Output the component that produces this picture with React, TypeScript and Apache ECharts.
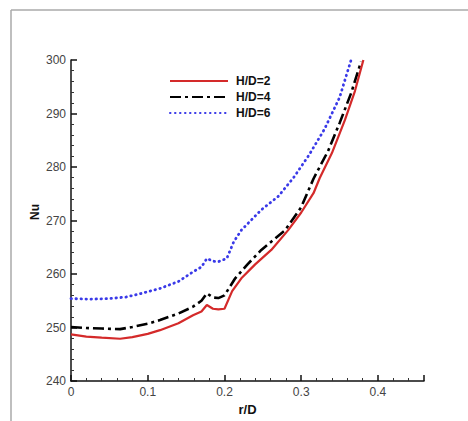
import React, { useEffect, useRef } from "react";
import * as echarts from "echarts";

const seriesNames = ["H/D=2", "H/D=4", "H/D=6"];

const rD2 = [0, 0.02, 0.04, 0.064, 0.08, 0.1, 0.116, 0.14, 0.159, 0.17, 0.177, 0.185, 0.192, 0.2, 0.21, 0.222, 0.24, 0.261, 0.283, 0.3, 0.316, 0.324, 0.34, 0.357, 0.37, 0.381];
const nu2 = [248.7, 248.3, 248.1, 247.9, 248.2, 248.8, 249.5, 250.8, 252.3, 253.0, 254.2, 253.5, 253.4, 253.5, 256.8, 259.2, 261.8, 264.5, 268.2, 271.5, 275.1, 277.9, 282.6, 288.8, 294.2, 300];

const rD4 = [0, 0.02, 0.04, 0.064, 0.08, 0.1, 0.116, 0.14, 0.159, 0.17, 0.177, 0.185, 0.192, 0.2, 0.214, 0.23, 0.248, 0.279, 0.3, 0.316, 0.335, 0.35, 0.365, 0.378];
const nu4 = [250.1, 249.9, 249.8, 249.7, 250.1, 250.7, 251.4, 252.6, 253.9, 255.0, 256.4, 255.6, 255.5, 256.0, 259.2, 261.8, 264.5, 268.2, 272.5, 277.8, 283.0, 288.2, 293.8, 299.7];

const rD6 = [0, 0.025, 0.05, 0.072, 0.09, 0.116, 0.14, 0.159, 0.17, 0.177, 0.185, 0.192, 0.203, 0.212, 0.222, 0.248, 0.27, 0.29, 0.31, 0.33, 0.35, 0.365];
const nu6 = [255.4, 255.3, 255.4, 255.7, 256.3, 257.3, 258.6, 260.4, 261.3, 262.9, 262.4, 262.3, 262.9, 266.0, 268.2, 272.0, 274.5, 278.0, 282.2, 287.0, 293.0, 300.0];

const xTicks = [0, 0.1, 0.2, 0.3, 0.4];
const yTicks = [240, 250, 260, 270, 280, 290, 300];

const pairs = (xs: number[], ys: number[]) => xs.map((x, i) => [x, ys[i]]);

export default function App() {
  const ref = useRef<HTMLDivElement>(null);
  useEffect(() => {
    if (!ref.current) return;
    const chart = echarts.init(ref.current, null, { renderer: "svg" });
    const font = "'Liberation Sans', Arial, sans-serif";
    chart.setOption({
      animation: false,
      backgroundColor: "#ffffff",
      grid: { left: 71, right: 44, top: 60, bottom: 40 },
      legend: {
        orient: "vertical",
        left: 164,
        top: 70,
        itemWidth: 58,
        itemHeight: 11,
        itemGap: 4,
        data: seriesNames,
        itemStyle: { opacity: 0 },
        textStyle: { fontFamily: font, fontWeight: "bold", fontSize: 12, color: "#111", padding: [0, 0, 0, 3] },
      },
      xAxis: {
        type: "value",
        min: 0,
        max: 0.46,
        interval: 0.1,
        name: "r/D",
        nameLocation: "middle",
        nameGap: 22,
        nameTextStyle: { fontFamily: font, fontWeight: "bold", fontSize: 13, color: "#111" },
        axisLine: { show: true, lineStyle: { color: "#111", width: 1.5 } },
        axisTick: { show: true, inside: true, length: 6, lineStyle: { color: "#111", width: 1.5 } },
        minorTick: { show: true, splitNumber: 5, length: 3, lineStyle: { color: "#333", width: 1 } },
        splitLine: { show: false },
        axisLabel: {
          fontFamily: font,
          fontSize: 12,
          color: "#444",
          margin: 5,
          showMaxLabel: false,
          formatter: (v: number) => {
            const t = xTicks.find((k) => Math.abs(k - v) < 1e-6);
            return t === undefined ? "" : String(t);
          },
        },
      },
      yAxis: {
        type: "value",
        min: yTicks[0],
        max: yTicks[yTicks.length - 1],
        interval: 10,
        axisLine: { show: true, lineStyle: { color: "#111", width: 1.5 } },
        axisTick: { show: true, inside: true, length: 6, lineStyle: { color: "#111", width: 1.5 } },
        minorTick: { show: true, splitNumber: 5, length: 3, lineStyle: { color: "#333", width: 1 } },
        splitLine: { show: false },
        axisLabel: { fontFamily: font, fontSize: 12, color: "#444", margin: 5 },
      },
      graphic: [
        { type: "line", shape: { x1: 11, y1: 10, x2: 468, y2: 10 }, style: { stroke: "#aaaaaa", lineWidth: 1.5 } },
        { type: "line", shape: { x1: 11, y1: 10, x2: 11, y2: 421 }, style: { stroke: "#aaaaaa", lineWidth: 1.5 } },
        {
          type: "text",
          x: 35,
          y: 212,
          rotation: Math.PI / 2,
          style: {
            text: "Nu",
            fontFamily: font,
            fontWeight: "bold",
            fontSize: 12,
            fill: "#111",
            align: "center",
            verticalAlign: "middle",
          },
        },
      ],
      series: [
        {
          name: seriesNames[0],
          type: "line",
          data: pairs(rD2, nu2),
          showSymbol: false,
          symbol: "none",
          color: "#d42a2a",
          lineStyle: { color: "#d42a2a", width: 2.2 },
          z: 3,
        },
        {
          name: seriesNames[1],
          type: "line",
          data: pairs(rD4, nu4),
          showSymbol: false,
          symbol: "none",
          color: "#000000",
          lineStyle: { color: "#000000", width: 2.6, type: [11, 4, 3, 4] },
          z: 2,
        },
        {
          name: seriesNames[2],
          type: "line",
          data: pairs(rD6, nu6),
          showSymbol: false,
          symbol: "none",
          color: "#3a3ae8",
          lineStyle: { color: "#3a3ae8", width: 2.8, type: [0.5, 4.5], cap: "round" },
          z: 1,
        },
      ],
    });
    return () => chart.dispose();
  }, []);
  return <div ref={ref} style={{ position: "fixed", left: 0, top: 0, width: 468, height: 421 }} />;
}
